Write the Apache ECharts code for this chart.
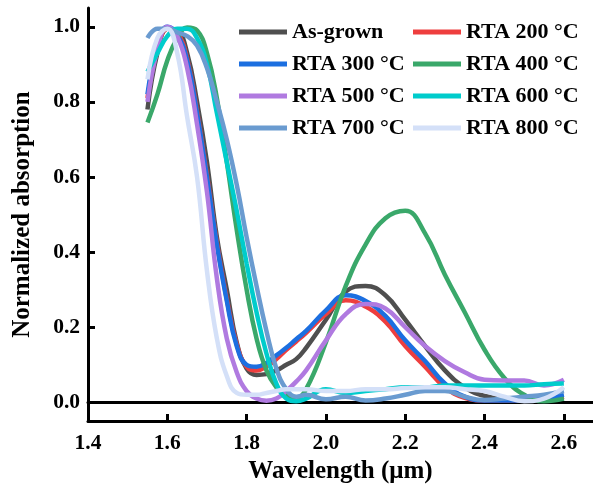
<!DOCTYPE html>
<html>
<head>
<meta charset="utf-8">
<script src="https://cdn.jsdelivr.net/npm/echarts@6/dist/echarts.min.js"></script>
<style>html,body{margin:0;padding:0;background:#fff;}#c{width:593px;height:489px;}</style>
</head>
<body>
<div id="c"></div>
<script>
// Wavelength (µm)
const wavelength = [1.55,1.575,1.6,1.625,1.65,1.675,1.7,1.725,1.75,1.775,1.8,1.825,1.85,1.875,1.9,1.925,1.95,2.0,2.05,2.1,2.15,2.2,2.25,2.3,2.35,2.4,2.45,2.5,2.55,2.6];
const asGrown = [0.78,0.93,0.995,0.99,0.93,0.80,0.64,0.44,0.30,0.16,0.09,0.073,0.075,0.085,0.10,0.115,0.145,0.22,0.295,0.31,0.285,0.22,0.15,0.085,0.04,0.017,0.01,0.01,0.01,0.015];
const rta200 = [0.81,0.94,0.995,0.985,0.915,0.775,0.605,0.425,0.275,0.155,0.095,0.085,0.095,0.115,0.14,0.162,0.185,0.235,0.272,0.255,0.215,0.15,0.095,0.04,0.012,0.005,0.005,0.005,0.008,0.015];
const rta300 = [0.82,0.95,1.0,0.98,0.91,0.77,0.60,0.42,0.27,0.15,0.10,0.095,0.105,0.125,0.145,0.168,0.19,0.245,0.285,0.27,0.23,0.165,0.11,0.05,0.015,0.005,0.005,0.005,0.01,0.02];
const rta400 = [0.745,0.82,0.91,0.97,0.998,0.99,0.93,0.81,0.64,0.46,0.30,0.17,0.085,0.04,0.02,0.012,0.035,0.16,0.31,0.42,0.49,0.51,0.45,0.34,0.24,0.14,0.065,0.02,0.003,0.01];
const rta500 = [0.80,0.94,1.0,0.975,0.89,0.74,0.56,0.33,0.17,0.08,0.03,0.01,0.004,0.01,0.03,0.055,0.085,0.165,0.235,0.262,0.25,0.20,0.15,0.11,0.08,0.06,0.058,0.058,0.045,0.06];
const rta600 = [0.88,0.93,0.975,0.995,0.995,0.97,0.90,0.77,0.64,0.51,0.37,0.24,0.13,0.05,0.01,0.003,0.01,0.035,0.025,0.03,0.035,0.04,0.04,0.045,0.045,0.045,0.045,0.045,0.048,0.05];
const rta700 = [0.97,0.995,0.995,0.985,0.975,0.95,0.89,0.80,0.70,0.58,0.44,0.31,0.19,0.09,0.035,0.015,0.02,0.008,0.015,0.005,0.01,0.02,0.03,0.03,0.015,0.006,0.01,0.015,0.02,0.03];
const rta800 = [0.86,0.97,0.995,0.93,0.76,0.60,0.35,0.17,0.07,0.025,0.02,0.02,0.025,0.03,0.035,0.035,0.035,0.03,0.03,0.035,0.035,0.038,0.04,0.04,0.035,0.03,0.015,0.003,0.01,0.04];

const seriesNames = ['As-grown','RTA 200 °C','RTA 300 °C','RTA 400 °C','RTA 500 °C','RTA 600 °C','RTA 700 °C','RTA 800 °C'];
const seriesValues = [asGrown, rta200, rta300, rta400, rta500, rta600, rta700, rta800];
const colors = ['#4f4f4f','#ee3e3e','#1c6fe0','#3aa86a','#b07ae0','#00cccc','#6a9bd0','#d4e0f8'];
const xTicks = [1.4,1.6,1.8,2.0,2.2,2.4,2.6];
const yTicks = [0,0.2,0.4,0.6,0.8,1.0];

const font = 'Liberation Serif';
const chart = echarts.init(document.getElementById('c'), null, {renderer:'canvas'});

const series = seriesNames.map((n,i)=>({
  name:n, type:'line', smooth:0.45, showSymbol:false, symbol:'none',
  data: wavelength.map((w,j)=>[w, seriesValues[i][j]]),
  lineStyle:{width:4.5, color:colors[i]}, itemStyle:{color:colors[i]},
  z: 2+i
}));

const legendCommon = {
  orient:'vertical', icon:'rect', itemWidth:48, itemHeight:5, itemGap:10,
  textStyle:{fontFamily:font, fontWeight:'bold', fontSize:22, color:'#000', lineHeight:21},
  padding:0, selectedMode:false
};

chart.setOption({
  animation:false,
  backgroundColor:'#fff',
  color:colors,
  legend:[
    Object.assign({}, legendCommon, {left:239, top:21, data:['As-grown','RTA 300 °C','RTA 500 °C','RTA 700 °C']}),
    Object.assign({}, legendCommon, {left:413, top:21, data:['RTA 200 °C','RTA 400 °C','RTA 600 °C','RTA 800 °C']})
  ],
  grid:{left:88, right:0, top:8, bottom:67, containLabel:false},
  xAxis:[{
    type:'value', min:1.4, max:2.6735,
    name:'Wavelength (μm)', nameLocation:'middle', nameGap:33,
    nameTextStyle:{fontFamily:font, fontWeight:'bold', fontSize:25, color:'#000', padding:[0,0,0,0]},
    axisLine:{show:true, onZero:false, lineStyle:{color:'#000', width:3}},
    axisTick:{show:true, inside:true, length:7, lineStyle:{width:3, color:'#000'}, customValues:xTicks},
    axisLabel:{fontFamily:font, fontWeight:'bold', fontSize:21.5, color:'#000', margin:11, customValues:xTicks, formatter:v=>v.toFixed(1)},
    splitLine:{show:false}
  },{
    type:'value', position:'top', min:1.4, max:2.6735,
    axisLine:{show:true, lineStyle:{color:'#000', width:3}},
    axisTick:{show:false}, axisLabel:{show:false}, splitLine:{show:false}
  }],
  yAxis:{
    type:'value', min:-0.05, max:1.05,
    name:'Normalized absorption', nameLocation:'middle', nameGap:53, nameRotate:90,
    nameTextStyle:{fontFamily:font, fontWeight:'bold', fontSize:25, color:'#000'},
    axisLine:{show:true, onZero:false, lineStyle:{color:'#000', width:3}},
    axisTick:{show:true, inside:true, length:7, lineStyle:{width:3, color:'#000'}, customValues:yTicks},
    axisLabel:{fontFamily:font, fontWeight:'bold', fontSize:21.5, color:'#000', margin:8, customValues:yTicks, formatter:v=>v.toFixed(1)},
    splitLine:{show:false}
  },
  series: series
});
</script>
</body>
</html>
